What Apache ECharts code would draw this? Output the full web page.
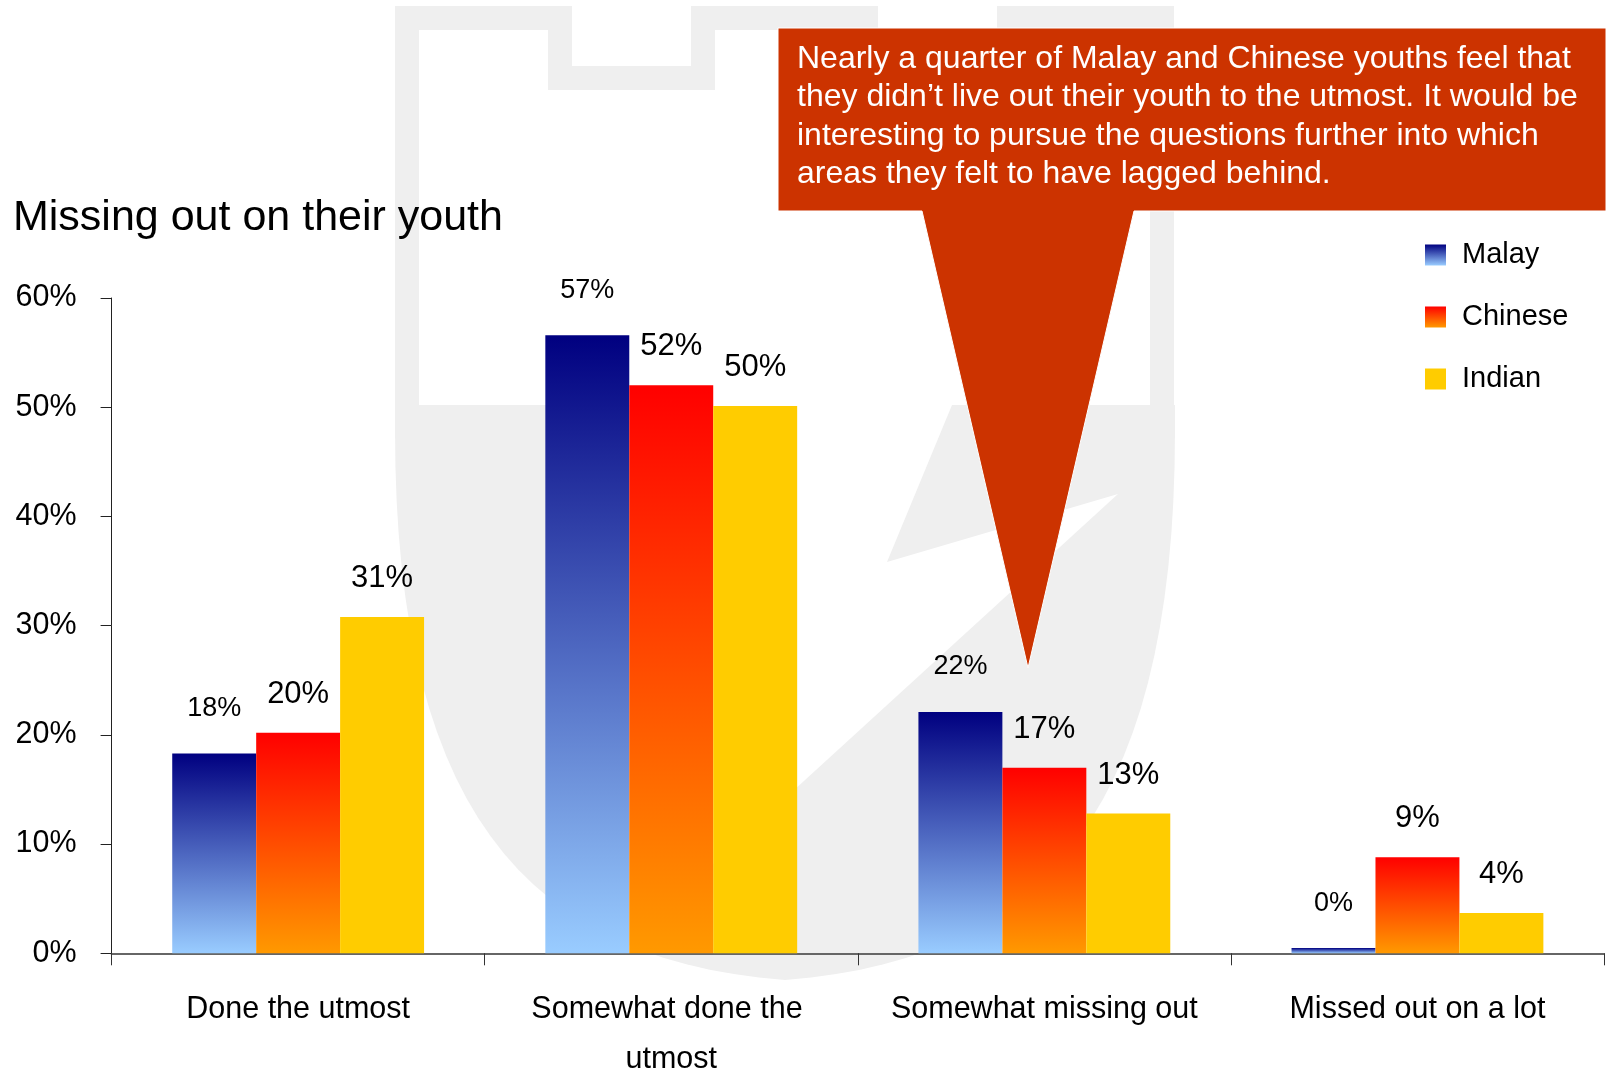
<!DOCTYPE html>
<html>
<head>
<meta charset="utf-8">
<script src="https://cdn.jsdelivr.net/npm/echarts@6/dist/echarts.min.js"></script>
<style>
html,body{margin:0;padding:0;background:#fff;}
#youth{width:1606px;height:1073px;}
</style>
</head>
<body>
<div id="youth"></div>
<script>
var categories = ['Done the utmost', 'Somewhat done the utmost', 'Somewhat missing out', 'Missed out on a lot'];
var malay = [18.3, 56.6, 22.1, 0.48];
var chinese = [20.2, 52.0, 17.0, 8.8];
var indian = [30.8, 50.1, 12.8, 3.7];
var yTicks = [0, 10, 20, 30, 40, 50, 60];
var titleText = 'Missing out on their youth';
var noteText = 'Nearly a quarter of Malay and Chinese youths feel that\nthey didn\u2019t live out their youth to the utmost. It would be\ninteresting to pursue the questions further into which\nareas they felt to have lagged behind.';

var arial = "'Liberation Sans', Arial, sans-serif";

function grad(top, bottom){
	return new echarts.graphic.LinearGradient(0, 0, 0, 1, [
		{offset: 0, color: top},
		{offset: 1, color: bottom}
	]);
}
function pct(p){
	return Math.round(p.value) + '%';
}
// cubic bezier sampled into points (for the watermark outline)
function bez(p0, p1, p2, p3, n){
	var pts = [];
	for (var i = 0; i <= n; i++) {
		var t = i / n, u = 1 - t;
		pts.push([
			u*u*u*p0[0] + 3*u*u*t*p1[0] + 3*u*t*t*p2[0] + t*t*t*p3[0],
			u*u*u*p0[1] + 3*u*u*t*p1[1] + 3*u*t*t*p2[1] + t*t*t*p3[1]
		]);
	}
	return pts;
}
var shield = [[395, 405], [1175, 405]]
	.concat(bez([1175, 430], [1175, 800], [1050, 960], [785, 980], 30))
	.concat(bez([785, 980], [520, 960], [395, 800], [395, 430], 30));

var chart = echarts.init(document.getElementById('youth'));
var option = {
	backgroundColor: '#fff',
	animation: false,
	title: {
		text: titleText,
		left: 13,
		top: 197,
		padding: 0,
		textStyle: {fontFamily: arial, fontSize: 43, fontWeight: 'normal', color: '#000'}
	},
	legend: {
		orient: 'vertical',
		left: 1425,
		top: 240,
		padding: 0,
		itemWidth: 21,
		itemHeight: 21,
		itemGap: 32,
		icon: 'rect',
		textStyle: {fontFamily: arial, fontSize: 29, color: '#000', lineHeight: 30, padding: [0, 0, 0, 11]},
		data: ['Malay', 'Chinese', 'Indian']
	},
	grid: {left: 111.6, right: 2, top: 298, bottom: 119.7, outerBoundsMode: 'none', containLabel: false},
	xAxis: {
		type: 'category',
		data: categories,
		axisLine: {lineStyle: {color: '#666', width: 2}},
		axisTick: {show: true, length: 12, lineStyle: {color: '#333', width: 1}},
		axisLabel: {
			color: '#000', fontFamily: arial, fontSize: 30.5, lineHeight: 50, margin: 31,
			width: 340, overflow: 'break', interval: 0
		}
	},
	yAxis: {
		type: 'value',
		min: yTicks[0],
		max: yTicks[yTicks.length - 1],
		interval: yTicks[1] - yTicks[0],
		axisLine: {show: true, lineStyle: {color: '#222', width: 1}},
		axisTick: {show: true, length: 11, lineStyle: {color: '#222'}},
		splitLine: {show: false},
		axisLabel: {formatter: '{value}%', color: '#000', fontFamily: arial, fontSize: 30.5, margin: 35}
	},
	series: [
		{
			name: 'Malay',
			type: 'bar',
			data: malay,
			barGap: '0%',
			barCategoryGap: '32.5%',
			z: 3,
			itemStyle: {color: grad('#000080', '#99ccff')},
			label: {show: true, position: 'top', distance: 31.5, formatter: pct,
				color: '#000', fontFamily: arial, fontSize: 27}
		},
		{
			name: 'Chinese',
			type: 'bar',
			data: chinese,
			z: 3,
			itemStyle: {color: grad('#ff0000', '#ff9900')},
			label: {show: true, position: 'top', distance: 23, formatter: pct,
				color: '#000', fontFamily: arial, fontSize: 31}
		},
		{
			name: 'Indian',
			type: 'bar',
			data: indian,
			z: 3,
			itemStyle: {color: '#ffcc00'},
			label: {show: true, position: 'top', distance: 23, formatter: pct,
				color: '#000', fontFamily: arial, fontSize: 31}
		}
	],
	graphic: [
		// faint shield watermark behind the plot
		{
			type: 'polygon', z: -20, silent: true,
			shape: {points: shield},
			style: {fill: '#efefef'}
		},
		{
			type: 'polygon', z: -19, silent: true,
			shape: {points: [[700, 405], [952, 405], [887, 562], [1118, 494], [700, 876]]},
			style: {fill: '#fff'}
		},
		{
			type: 'polyline', z: -18, silent: true,
			shape: {points: [[407, 405], [407, 18], [560, 18], [560, 78], [703, 78], [703, 18], [866, 18], [866, 78], [1009, 78], [1009, 18], [1162, 18], [1162, 405]]},
			style: {stroke: '#efefef', lineWidth: 24, fill: null, lineJoin: 'miter'}
		},
		// callout box
		{
			type: 'polygon', z: 100, silent: true,
			shape: {points: [[778, 28], [1606, 28], [1606, 211], [1134, 211], [1028, 668], [922, 211], [778, 211]]},
			style: {fill: '#cc3300', stroke: '#fff', lineWidth: 1}
		},
		{
			type: 'text', z: 101, silent: true,
			left: 797, top: 40,
			style: {text: noteText, fill: '#fff', fontFamily: arial, fontSize: 32, lineHeight: 38.3}
		}
	]
};
chart.setOption(option);
</script>
</body>
</html>
